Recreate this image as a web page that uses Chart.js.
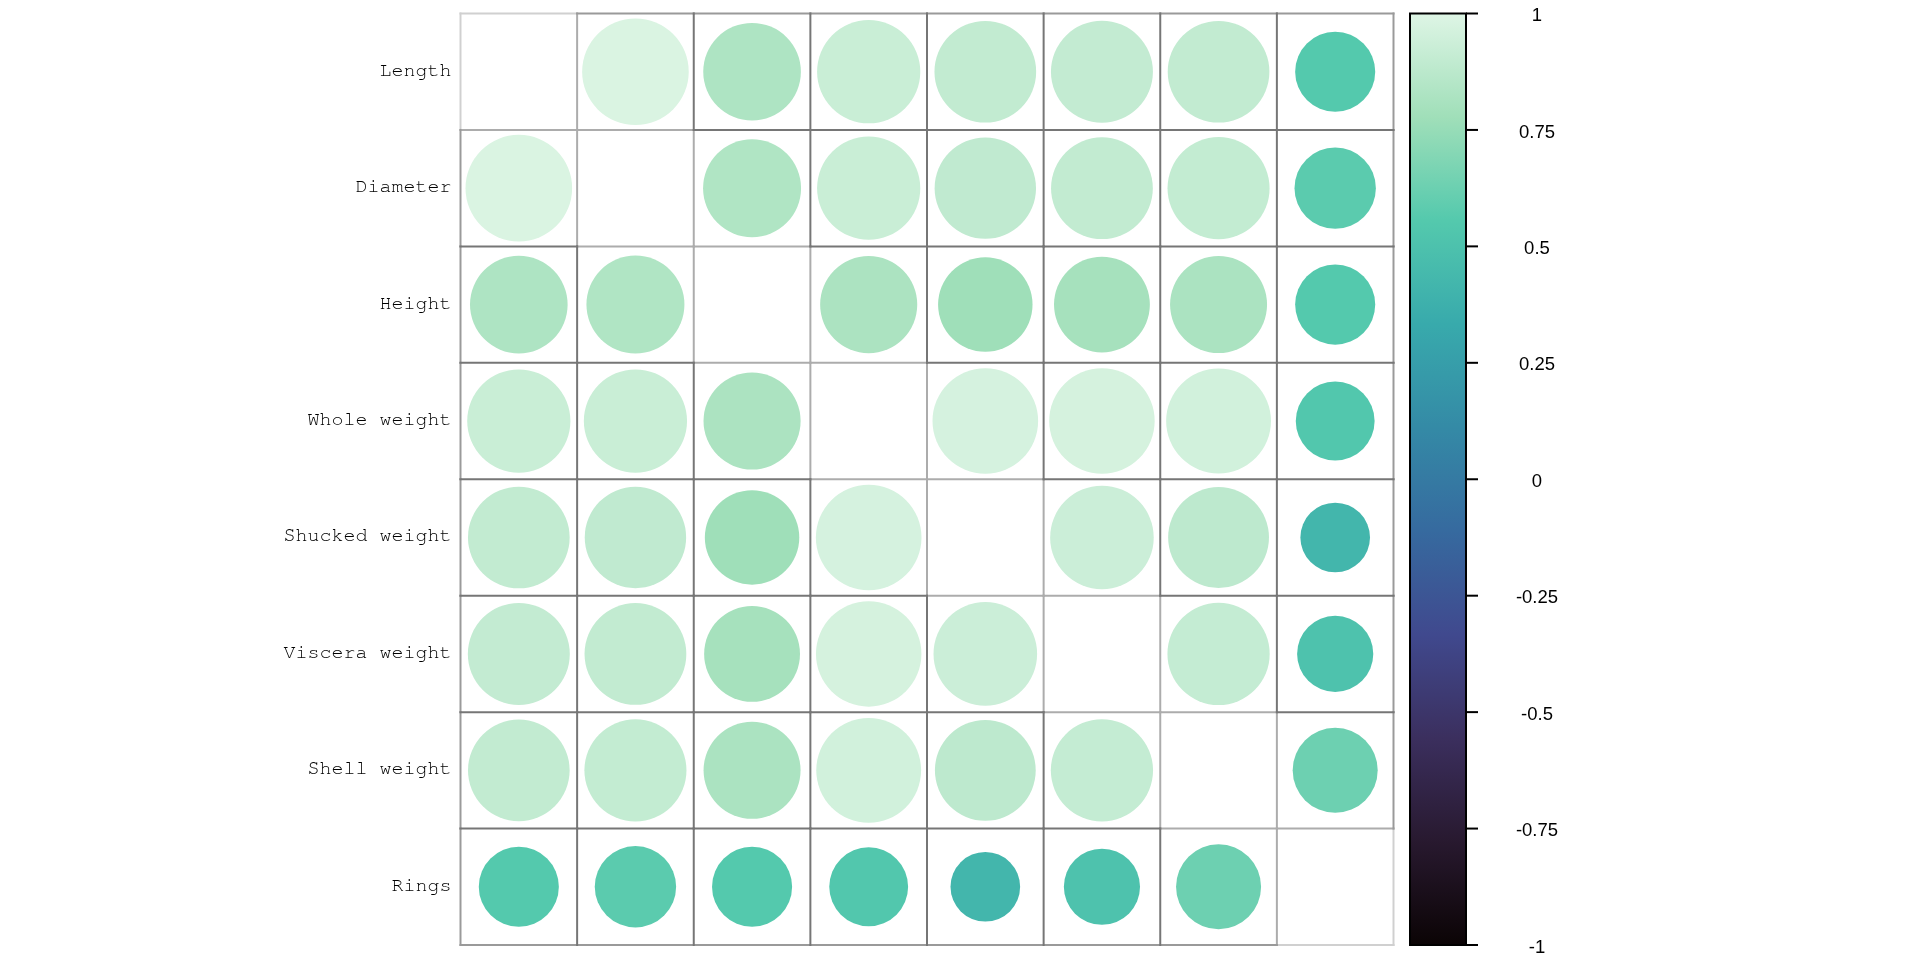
<!DOCTYPE html>
<html>
<head>
<meta charset="utf-8">
<script src="https://cdn.jsdelivr.net/npm/chart.js@4.4.1/dist/chart.umd.min.js"></script>
<style>
  html, body { margin: 0; padding: 0; background: #ffffff; }
  #wrap { width: 1920px; height: 960px; position: relative; }
</style>
</head>
<body>
<div id="wrap"><canvas id="c"></canvas></div>
<script>
// ---- data ----
const varNames = ['Length', 'Diameter', 'Height', 'Whole weight', 'Shucked weight', 'Viscera weight', 'Shell weight', 'Rings'];
const corrLength   = [1.000, 0.987, 0.828, 0.925, 0.898, 0.903, 0.898, 0.557];
const corrDiameter = [0.987, 1.000, 0.834, 0.925, 0.893, 0.900, 0.905, 0.575];
const corrHeight   = [0.828, 0.834, 1.000, 0.819, 0.775, 0.798, 0.817, 0.557];
const corrWhole    = [0.925, 0.925, 0.819, 1.000, 0.969, 0.966, 0.955, 0.540];
const corrShucked  = [0.898, 0.893, 0.775, 0.969, 1.000, 0.932, 0.883, 0.421];
const corrViscera  = [0.903, 0.900, 0.798, 0.966, 0.932, 1.000, 0.908, 0.504];
const corrShell    = [0.898, 0.905, 0.817, 0.955, 0.883, 0.908, 1.000, 0.628];
const corrRings    = [0.557, 0.575, 0.557, 0.540, 0.421, 0.504, 0.628, 1.000];
const corrRows = [corrLength, corrDiameter, corrHeight, corrWhole, corrShucked, corrViscera, corrShell, corrRings];
const colorbarTicks = [-1, -0.75, -0.5, -0.25, 0, 0.25, 0.5, 0.75, 1];

// ---- mako-like palette (low -> high) ----
const makoStops = ['#0B0405', '#28192F', '#3B2F5E', '#40498E', '#366A9F', '#348AA6', '#38AAAC', '#54C9AD', '#A0DFB9', '#DEF5E5'];
function hexToRgb(h) { return [parseInt(h.slice(1,3),16), parseInt(h.slice(3,5),16), parseInt(h.slice(5,7),16)]; }
function makoColor(v) {
  const t = Math.min(1, Math.max(0, (v + 1) / 2)) * (makoStops.length - 1);
  const i = Math.min(makoStops.length - 2, Math.floor(t));
  const f = t - i;
  const a = hexToRgb(makoStops[i]), b = hexToRgb(makoStops[i + 1]);
  const c = a.map((x, k) => Math.round(x + (b[k] - x) * f));
  return `rgb(${c[0]},${c[1]},${c[2]})`;
}

// ---- points (off-diagonal cells) ----
const points = [];
corrRows.forEach((row, i) => row.forEach((v, j) => {
  if (i !== j) points.push({ x: j + 0.5, y: i + 0.5, v: v });
}));

// edge shade by the kind of cells it separates
const edgeShades = ['#d0d0d0', '#acacac', '#9a9a9a', '#767676']; // outer-diag, diag/off, outer-off, off/off
function edgeKind(adj) {
  const offs = adj.filter(c => c[0] !== c[1]).length;
  if (adj.length === 1) return offs === 1 ? 2 : 0;
  return offs === 2 ? 3 : 1;
}

const gridPlugin = {
  id: 'cellGrid',
  beforeDatasetsDraw(chart) {
    const ctx = chart.ctx, xs = chart.scales.x, ys = chart.scales.y;
    const n = varNames.length;
    const groups = [[], [], [], []];
    for (let k = 0; k <= n; k++) {
      for (let j = 0; j < n; j++) {
        const adj = [];
        if (k - 1 >= 0) adj.push([k - 1, j]);
        if (k < n) adj.push([k, j]);
        groups[edgeKind(adj)].push([xs.getPixelForValue(j), ys.getPixelForValue(k), xs.getPixelForValue(j + 1), ys.getPixelForValue(k)]);
      }
    }
    for (let k = 0; k <= n; k++) {
      for (let i = 0; i < n; i++) {
        const adj = [];
        if (k - 1 >= 0) adj.push([i, k - 1]);
        if (k < n) adj.push([i, k]);
        groups[edgeKind(adj)].push([xs.getPixelForValue(k), ys.getPixelForValue(i), xs.getPixelForValue(k), ys.getPixelForValue(i + 1)]);
      }
    }
    ctx.save();
    ctx.lineWidth = 2;
    ctx.lineCap = 'square';
    groups.forEach((g, gi) => {
      ctx.strokeStyle = edgeShades[gi];
      g.forEach(s => { ctx.beginPath(); ctx.moveTo(s[0], s[1]); ctx.lineTo(s[2], s[3]); ctx.stroke(); });
    });
    ctx.restore();
  }
};

const colorbarPlugin = {
  id: 'colorbar',
  afterDraw(chart) {
    const ctx = chart.ctx, cb = chart.scales.cb;
    const x0 = chart.chartArea.right + 16.5, w = 56;
    const yTop = cb.getPixelForValue(1), yBot = cb.getPixelForValue(-1);
    const g = ctx.createLinearGradient(0, yBot, 0, yTop);
    makoStops.forEach((c, i) => g.addColorStop(i / (makoStops.length - 1), c));
    ctx.save();
    ctx.fillStyle = g;
    ctx.fillRect(x0, yTop, w, yBot - yTop);
    ctx.strokeStyle = '#000';
    ctx.lineWidth = 2;
    ctx.strokeRect(x0, yTop, w, yBot - yTop);
    cb.ticks.forEach(t => {
      const y = cb.getPixelForValue(t.value);
      ctx.beginPath();
      ctx.moveTo(x0 + w, y);
      ctx.lineTo(x0 + w + 12, y);
      ctx.stroke();
    });
    ctx.restore();
  }
};

function zeroPad(s) { s.paddingTop = 0; s.paddingBottom = 0; s.paddingLeft = 0; s.paddingRight = 0; }

new Chart(document.getElementById('c'), {
  type: 'scatter',
  data: {
    datasets: [{
      data: points,
      pointRadius: (c) => {
        const xs = c.chart.scales.x;
        const cell = Math.abs(xs.getPixelForValue(1) - xs.getPixelForValue(0));
        return 0.46 * Math.sqrt(Math.abs(c.raw ? c.raw.v : 0)) * cell;
      },
      pointBackgroundColor: (c) => makoColor(c.raw ? c.raw.v : 0),
      pointBorderWidth: 0,
      pointHoverRadius: 0
    }]
  },
  options: {
    responsive: true,
    maintainAspectRatio: false,
    animation: false,
    events: [],
    clip: false,
    layout: { autoPadding: false, padding: { left: 0, right: 0, top: 13.5, bottom: 15 } },
    plugins: { legend: { display: false }, tooltip: { enabled: false } },
    scales: {
      x: { type: 'linear', min: 0, max: 8, display: false },
      y: {
        type: 'linear', min: 0, max: 8, reverse: true, position: 'left',
        grid: { display: false, drawTicks: false },
        border: { display: false },
        afterBuildTicks: (s) => { s.ticks = varNames.map((_, i) => ({ value: i + 0.5 })); },
        afterFit: (s) => { s.width = 460.5; zeroPad(s); },
        ticks: {
          padding: 9,
          labelOffset: -2,
          color: '#000',
          font: { family: "'Nimbus Mono PS', 'Nimbus Mono L', FreeMono, 'Courier New', 'Liberation Mono', monospace", size: 20 },
          callback: (v, i) => varNames[i]
        }
      },
      cb: {
        type: 'linear', min: -1, max: 1, position: 'right',
        grid: { display: false, drawTicks: false, drawOnChartArea: false },
        border: { display: false },
        afterBuildTicks: (s) => { s.ticks = colorbarTicks.map(v => ({ value: v })); },
        afterFit: (s) => { s.width = 526.5; zeroPad(s); },
        ticks: {
          crossAlign: 'center',
          padding: 122.4,
          labelOffset: 2.5,
          color: '#000',
          font: { family: "'Liberation Sans', Arial, sans-serif", size: 18.5 },
          callback: (v) => String(v)
        }
      }
    }
  },
  plugins: [gridPlugin, colorbarPlugin]
});
</script>
</body>
</html>
